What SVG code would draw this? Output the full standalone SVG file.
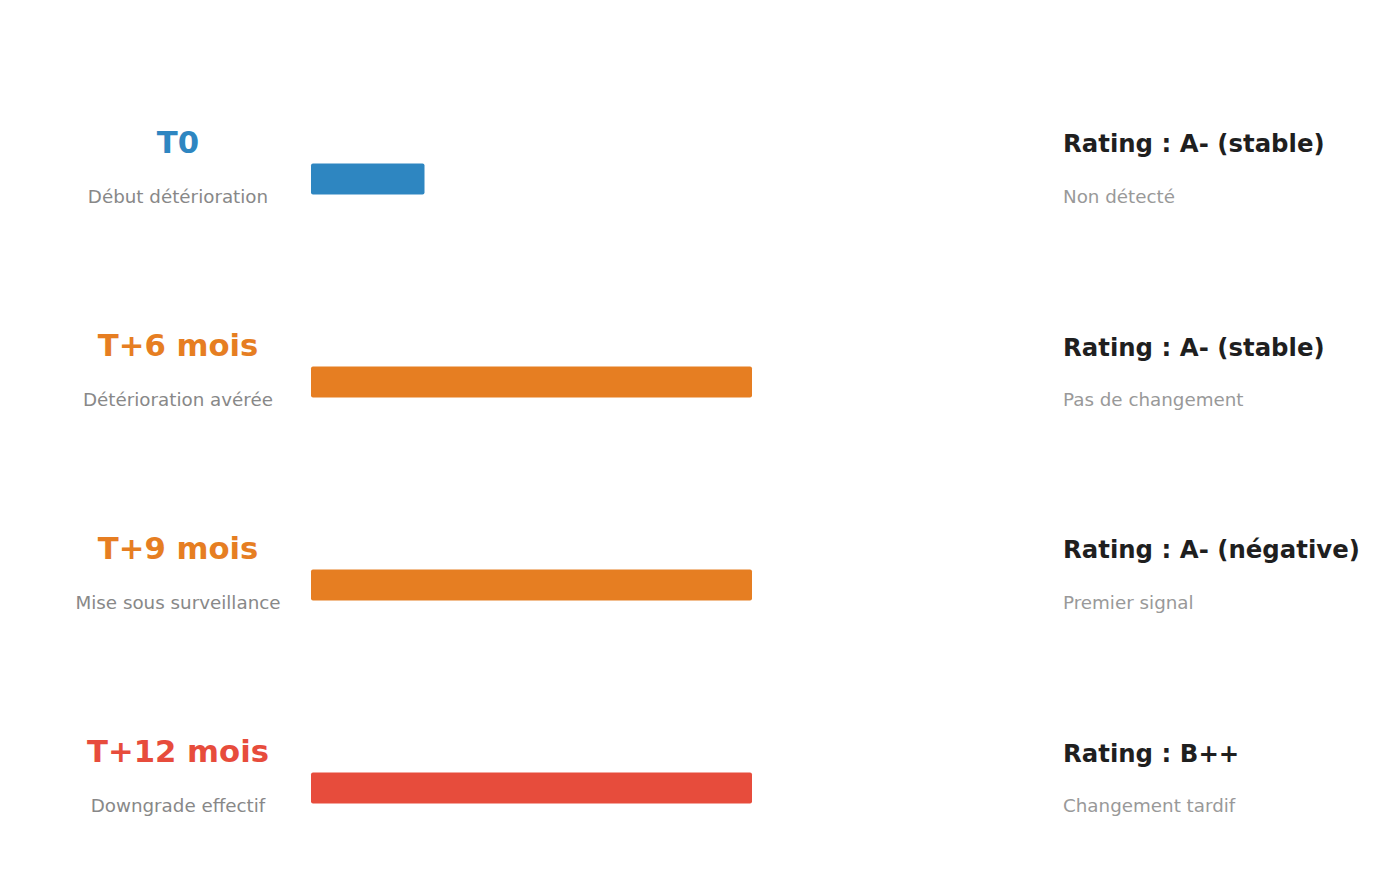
<svg xmlns="http://www.w3.org/2000/svg" width="1385" height="875" viewBox="0 0 1385 875">
<style>
.t{font-family:"DejaVu Sans",sans-serif;font-weight:bold;font-size:30.7px;text-anchor:middle}
.s{font-family:"DejaVu Sans",sans-serif;font-size:18.3px;fill:#888888;text-anchor:middle}
.r{font-family:"DejaVu Sans",sans-serif;font-weight:bold;font-size:24.4px;fill:#1f1f1f}
.rs{font-family:"DejaVu Sans",sans-serif;font-size:18.3px;fill:#999999}
.blue{fill:#2e86c1}.orange{fill:#e67e22}.red{fill:#e74c3c}
</style>
<rect width="1385" height="875" fill="#ffffff"/>
<g id="row-t0">
<text class="t blue" x="178" y="153">T0</text>
<text class="s" x="178" y="203">Début détérioration</text>
<rect class="blue" x="311" y="163.5" width="113.5" height="31" rx="2"/>
<text class="r" x="1063" y="152">Rating : A- (stable)</text>
<text class="rs" x="1063" y="203">Non détecté</text>
</g>
<g id="row-t6">
<text class="t orange" x="178" y="356">T+6 mois</text>
<text class="s" x="178" y="406">Détérioration avérée</text>
<rect class="orange" x="311" y="366.5" width="441" height="31" rx="2"/>
<text class="r" x="1063" y="356">Rating : A- (stable)</text>
<text class="rs" x="1063" y="406">Pas de changement</text>
</g>
<g id="row-t9">
<text class="t orange" x="178" y="559">T+9 mois</text>
<text class="s" x="178" y="609">Mise sous surveillance</text>
<rect class="orange" x="311" y="569.5" width="441" height="31" rx="2"/>
<text class="r" x="1063" y="558">Rating : A- (négative)</text>
<text class="rs" x="1063" y="609">Premier signal</text>
</g>
<g id="row-t12">
<text class="t red" x="178" y="762">T+12 mois</text>
<text class="s" x="178" y="812">Downgrade effectif</text>
<rect class="red" x="311" y="772.5" width="441" height="31" rx="2"/>
<text class="r" x="1063" y="762">Rating : B++</text>
<text class="rs" x="1063" y="812">Changement tardif</text>
</g>
<g id="connectors"></g>
</svg>
